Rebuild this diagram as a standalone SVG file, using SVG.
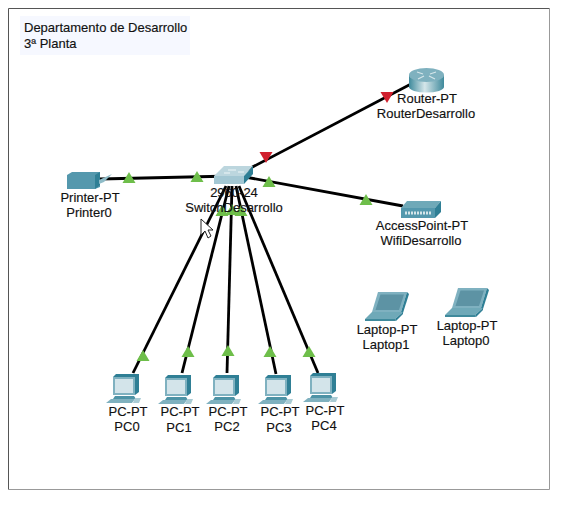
<svg xmlns="http://www.w3.org/2000/svg" width="570" height="511" viewBox="0 0 570 511">
<style>
text{font-family:"Liberation Sans",Arial,sans-serif;font-size:13px;fill:#111;text-anchor:middle;stroke:#111;stroke-width:.15}
.l{stroke:#000;stroke-width:2.800;fill:none}
.g{fill:#6ebe4a}
.r{fill:#d0202e}
</style>
<defs>
<linearGradient id="rt" x1="0" x2="1" y1="0" y2="0"><stop offset="0" stop-color="#3f8a9c"/><stop offset=".45" stop-color="#d5e6ea"/><stop offset="1" stop-color="#3f8a9c"/></linearGradient>
<polygon id="up" points="0,-6 6.500,5 -6.500,5"/>
<polygon id="dn" points="0,6 6.500,-5 -6.500,-5"/>
<g id="pc">
<polygon points="-13,-24 -10,-27 13,-27 13,-9 9,-6 -13,-6" fill="#2f7f95"/>
<rect x="-13" y="-24" width="22" height="18" fill="#7fb1c0"/>
<rect x="-11" y="-22" width="18" height="14" fill="#d3e4ea"/>
<polygon points="-11,-5 8,-5 10,-2 -13,-2" fill="#4d93a6"/>
<polygon points="-15,-2 9,-2 6,2 -20,2" fill="#7fb1bf"/>
<polygon points="9,-3 15,-3 13,2 7,2" fill="#a9cbd4"/>
</g>
<g id="laptop">
<polygon points="-16,-25 13,-25 7,-5 -22,-5" fill="#7fb1c0"/>
<polygon points="-13.500,-22.500 10,-22.500 5,-7 -18.500,-7" fill="#5d93a4"/>
<polygon points="13,-25 15,-23 9,-4 7,-5" fill="#2f7f95"/>
<polygon points="-22,-5 9,-5 1,2 -29,2" fill="#6fa9b8"/>
<polygon points="9,-5 9,-3 2,4 1,2" fill="#2f7f95"/>
<polygon points="-29,2 1,2 2,4 -29,4" fill="#3f8a9c"/>
</g>
</defs>
<rect width="570" height="511" fill="#fff"/>
<path d="M8.500 489V8.500H549" fill="none" stroke="#555"/>
<path d="M549.500 8V489.500H8" fill="none" stroke="#999"/>
<rect x="20" y="16" width="170" height="39" fill="#f6f8ff"/>
<text x="24" y="32" style="text-anchor:start">Departamento de Desarrollo</text>
<text x="24" y="48" style="text-anchor:start">3ª Planta</text>
<g id="connectors">
<path class="l" d="M411 84L243 172"/>
<path class="l" d="M100 179L232 176"/>
<path class="l" d="M403 206L245 177"/>
<path class="l" d="M133 373L226 186"/>
<path class="l" d="M182 373L229 186"/>
<path class="l" d="M227 373L232 186"/>
<path class="l" d="M276 374L236 186"/>
<path class="l" d="M318 373L239 186"/>
<use href="#dn" class="r" x="387" y="97"/>
<use href="#dn" class="r" x="266" y="157"/>
<use href="#up" class="g" x="129" y="178"/>
<use href="#up" class="g" x="197" y="177"/>
<use href="#up" class="g" x="269" y="182"/>
<use href="#up" class="g" x="366" y="200"/>
<use href="#up" class="g" x="143" y="356"/>
<use href="#up" class="g" x="188" y="352"/>
<use href="#up" class="g" x="228" y="351"/>
<use href="#up" class="g" x="270" y="352"/>
<use href="#up" class="g" x="309" y="352"/>
<use href="#up" class="g" x="222" y="211"/>
<use href="#up" class="g" x="232" y="210"/>
<use href="#up" class="g" x="241" y="211"/>
</g>
<g id="router">
<rect x="409" y="75" width="35" height="12" fill="url(#rt)"/>
<ellipse cx="426.500" cy="87" rx="17.500" ry="5.500" fill="url(#rt)"/>
<ellipse cx="426.500" cy="75" rx="17.500" ry="7" fill="#7fb1bf"/>
<path d="M417 72l6 2M436 72l-6 2M418 79l6-3M435 79l-6-3" stroke="#d5e6ea" stroke-width="1.200"/>
<text x="427" y="103">Router-PT</text>
<text x="426" y="118">RouterDesarrollo</text>
</g>
<g id="printer">
<polygon points="67,175 72,172 100,172 100,187 95,189 67,189" fill="#5498ad"/>
<polygon points="95,175 100,172 100,185 95,189" fill="#2f7f95"/>
<polygon points="99,180 112,174 104,182 99,184" fill="#8fbcc8"/>
<text x="90" y="202">Printer-PT</text>
<text x="89" y="217">Printer0</text>
</g>
<g id="switch">
<polygon points="214,176 224,166 253,166 244,176" fill="#bcd6de"/>
<polygon points="214,176 244,176 244,184 214,184" fill="#a3c7d3"/>
<polygon points="244,176 253,166 253,174 244,184" fill="#2f7f95"/>
<path d="M228 170h8M238 172h6M224 173h6" stroke="#eef6f8" stroke-width="1"/>
<text x="234" y="197">2960-24</text>
<text x="234" y="212">SwitchDesarrollo</text>
</g>
<g id="accesspoint">
<polygon points="401,208 407,201 441,201 435,208" fill="#6fa9b8"/>
<polygon points="435,208 441,201 441,212 435,218" fill="#2f7f95"/>
<rect x="401" y="208" width="34" height="10" fill="#5498ad"/>
<path d="M405 213h26" stroke="#d5e6ea" stroke-width="3" stroke-dasharray="2 1"/>
<text x="422" y="230">AccessPoint-PT</text>
<text x="421" y="245">WifiDesarrollo</text>
</g>
<g id="laptop1">
<use href="#laptop" x="394" y="317"/>
<text x="387" y="334">Laptop-PT</text>
<text x="386" y="349">Laptop1</text>
</g>
<g id="laptop0">
<use href="#laptop" x="474" y="313"/>
<text x="467" y="330">Laptop-PT</text>
<text x="466" y="345">Laptop0</text>
</g>
<g id="pc0"><use href="#pc" x="126" y="401"/><text x="128" y="416">PC-PT</text><text x="127" y="431">PC0</text></g>
<g id="pc1"><use href="#pc" x="178" y="402"/><text x="180" y="416">PC-PT</text><text x="179" y="432">PC1</text></g>
<g id="pc2"><use href="#pc" x="226" y="402"/><text x="228" y="416">PC-PT</text><text x="227" y="431">PC2</text></g>
<g id="pc3"><use href="#pc" x="278" y="402"/><text x="280" y="416">PC-PT</text><text x="279" y="432">PC3</text></g>
<g id="pc4"><use href="#pc" x="323" y="400"/><text x="325" y="415">PC-PT</text><text x="324" y="430">PC4</text></g>
<polygon points="201,219 201,235 205,231 208,238 211,236 208,230 213,230" fill="#fff" stroke="#222"/>
</svg>
